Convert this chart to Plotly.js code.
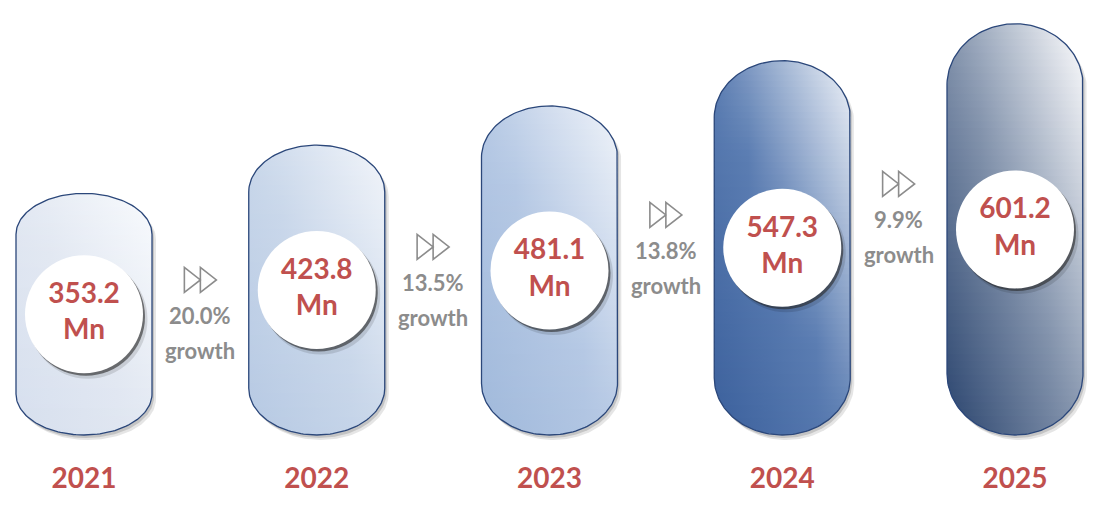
<!DOCTYPE html>
<html>
<head>
<meta charset="utf-8">
<script src="https://cdn.plot.ly/plotly-3.0.1.min.js"></script>
<style>html,body{margin:0;padding:0;background:#fff;}#chart{width:1110px;height:520px;}</style>
</head>
<body>
<div id="chart"></div>
<script>
// ---- data ----
const years = ['2021', '2022', '2023', '2024', '2025'];
const values = [353.2, 423.8, 481.1, 547.3, 601.2];
const growthRates = ['20.0%', '13.5%', '13.8%', '9.9%'];
const growthWord = 'growth';
const unit = 'Mn';

// ---- styles ----
const gradStops = [
  ['#d6dfee', '#e2e8f2', '#f8fafd'],
  ['#b6c9e3', '#c9d7ea', '#f2f5fa'],
  ['#a0b9db', '#b5c8e4', '#eff3f9'],
  ['#3b609c', '#5b7db2', '#eef2f8'],
  ['#2a446e', '#8494ad', '#fdfdfe']
];
const RED = '#c0504e';
const GREY = '#8c8c8c';
const FONT = 'Lato, "Open Sans", sans-serif';

// ---- geometry (pixel scales) ----
const W = 1110, H = 520, MB = 70, PLOT_H = H - MB;
const PX_PER_X = 232.75;       // pixels per category step
const PX_PER_Y = 0.684;        // pixels per value unit
const X0 = -84 / PX_PER_X;
const xRange = [X0, X0 + W / PX_PER_X];
const Y0 = -15 / PX_PER_Y;
const yRange = [Y0, Y0 + PLOT_H / PX_PER_Y];
const dx = p => p / PX_PER_X;
const dy = p => p / PX_PER_Y;

const RX = dx(68);

function capPx(hPx) { return Math.min(0.12 * hPx + 12, hPx / 2); }

function outline(xc, top) {
  const hPx = top * PX_PER_Y;
  const ry = dy(capPx(hPx));
  const yb = ry, yt = top - ry;
  const pts = [];
  const N = 40;
  for (let k = 0; k <= N; k++) { const a = -Math.PI / 2 + (Math.PI / 2) * k / N; pts.push([xc + RX * Math.cos(a), yb + ry * Math.sin(a)]); }
  for (let k = 0; k <= 2 * N; k++) { const a = Math.PI * k / (2 * N); pts.push([xc + RX * Math.cos(a), yt + ry * Math.sin(a)]); }
  for (let k = 0; k <= N; k++) { const a = Math.PI + (Math.PI / 2) * k / N; pts.push([xc + RX * Math.cos(a), yb + ry * Math.sin(a)]); }
  return pts;
}

function clipHalf(poly, yv, keepAbove) {
  const out = [];
  const inside = p => keepAbove ? p[1] >= yv : p[1] <= yv;
  for (let i = 0; i < poly.length; i++) {
    const cur = poly[i], prev = poly[(i + poly.length - 1) % poly.length];
    const ci = inside(cur), pi = inside(prev);
    if (ci) {
      if (!pi) { const t = (yv - prev[1]) / (cur[1] - prev[1]); out.push([prev[0] + t * (cur[0] - prev[0]), yv]); }
      out.push(cur);
    } else if (pi) {
      const t = (yv - prev[1]) / (cur[1] - prev[1]); out.push([prev[0] + t * (cur[0] - prev[0]), yv]);
    }
  }
  return out;
}

function hex2rgb(h) { return [1, 3, 5].map(i => parseInt(h.substr(i, 2), 16)); }
function scaleColor(stops, t) {
  const c = stops.map(hex2rgb);
  let a, b, f;
  if (t <= 0.5) { a = c[0]; b = c[1]; f = t / 0.5; } else { a = c[1]; b = c[2]; f = (t - 0.5) / 0.5; }
  const r = a.map((v, i) => Math.round(v + (b[i] - v) * f));
  return 'rgb(' + r.join(',') + ')';
}

const traces = [];
const xs = years.map((_, i) => i);

// shadows of pills
values.forEach((v, i) => {
  const pts = outline(xs[i], v);
  [[4, 5, 'rgba(0,0,0,0.10)'], [2, 3, 'rgba(0,0,0,0.14)']].forEach(([ox, oy, col]) => {
    traces.push({ x: pts.map(p => p[0] + dx(ox)), y: pts.map(p => p[1] - dy(oy)), mode: 'lines', line: { width: 0 },
      fill: 'toself', fillcolor: col, hoverinfo: 'skip', showlegend: false });
  });
});

// gradient bands
const NB = 60;
values.forEach((v, i) => {
  const pts = outline(xs[i], v);
  for (let j = 0; j < NB; j++) {
    const ya = v * j / NB - (j > 0 ? dy(1.5) : 0);
    const yb = v * (j + 1) / NB;
    let poly = clipHalf(pts, ya, true);
    poly = clipHalf(poly, yb, false);
    if (poly.length < 3) continue;
    const w = (j + 0.5) / NB;
    const cs = [0, 0.25, 0.5, 0.75, 1].map(u => [u, scaleColor(gradStops[i], (u + w) / 2)]);
    traces.push({ x: poly.map(p => p[0]), y: poly.map(p => p[1]), mode: 'lines', line: { width: 0 },
      fill: 'toself', fillgradient: { type: 'horizontal', start: xs[i] - RX, stop: xs[i] + RX, colorscale: cs },
      hoverinfo: 'skip', showlegend: false });
  }
});

// outlines
values.forEach((v, i) => {
  const pts = outline(xs[i], v);
  pts.push(pts[0]);
  traces.push({ x: pts.map(p => p[0]), y: pts.map(p => p[1]), mode: 'lines', line: { color: '#2b477a', width: 1.3 },
    hoverinfo: 'skip', showlegend: false });
});

// circles
const cy = values.map(v => v / 2);
traces.push({ x: xs.map(x => x + dx(4)), y: cy.map(y => y - dy(5)), mode: 'markers', marker: { size: 119, color: 'rgba(0,0,0,0.12)', line: { width: 0 } }, hoverinfo: 'skip', showlegend: false, cliponaxis: false });
traces.push({ x: xs.map(x => x + dx(2)), y: cy.map(y => y - dy(2.5)), mode: 'markers', marker: { size: 118, color: 'rgba(40,40,40,0.6)', line: { width: 0 } }, hoverinfo: 'skip', showlegend: false, cliponaxis: false });
traces.push({ x: xs, y: cy, mode: 'markers+text', marker: { size: 118, color: '#ffffff', line: { width: 0 } },
  text: values.map(v => v.toFixed(1) + '<br>' + unit), textposition: 'middle center',
  textfont: { family: FONT, size: 28, color: RED, weight: 700 }, hoverinfo: 'skip', showlegend: false, cliponaxis: false });

// growth annotations + arrows
const annotations = [];
const shapes = [];
growthRates.forEach((g, i) => {
  const avg = (values[i] + values[i + 1]) / 2;
  const yG = 0.756 * avg - 119.7;
  const xg = i + 0.5;
  annotations.push({ x: xg, y: yG, xref: 'x', yref: 'y', text: g, showarrow: false, yanchor: 'middle',
    font: { family: FONT, size: 22, color: GREY, weight: 700 } });
  annotations.push({ x: xg, y: yG, xref: 'x', yref: 'y', text: growthWord, showarrow: false, yanchor: 'middle', yshift: -35,
    font: { family: FONT, size: 22, color: GREY, weight: 700 } });
  shapes.push({ type: 'path', xref: 'x', yref: 'y', xsizemode: 'pixel', ysizemode: 'pixel', xanchor: xg, yanchor: yG,
    path: 'M -16 23.5 L -16 48.5 L 0 36 Z M 0 23.5 L 0 48.5 L 16 36 Z',
    line: { color: GREY, width: 1.6 }, fillcolor: 'rgba(0,0,0,0)' });
});

const layout = {
  width: W, height: H,
  margin: { l: 0, r: 0, t: 0, b: MB, pad: 0 },
  paper_bgcolor: '#ffffff', plot_bgcolor: '#ffffff',
  showlegend: false,
  xaxis: { range: xRange, tickvals: xs, ticktext: years, showgrid: false, zeroline: false, showline: false, ticks: '',
    ticklabelstandoff: 9, tickfont: { family: FONT, size: 28, color: RED, weight: 700 }, fixedrange: true },
  yaxis: { range: yRange, showgrid: false, zeroline: false, showline: false, showticklabels: false, ticks: '', fixedrange: true },
  annotations: annotations,
  shapes: shapes
};

Plotly.newPlot('chart', traces, layout, { displayModeBar: false, staticPlot: true });
</script>
</body>
</html>
